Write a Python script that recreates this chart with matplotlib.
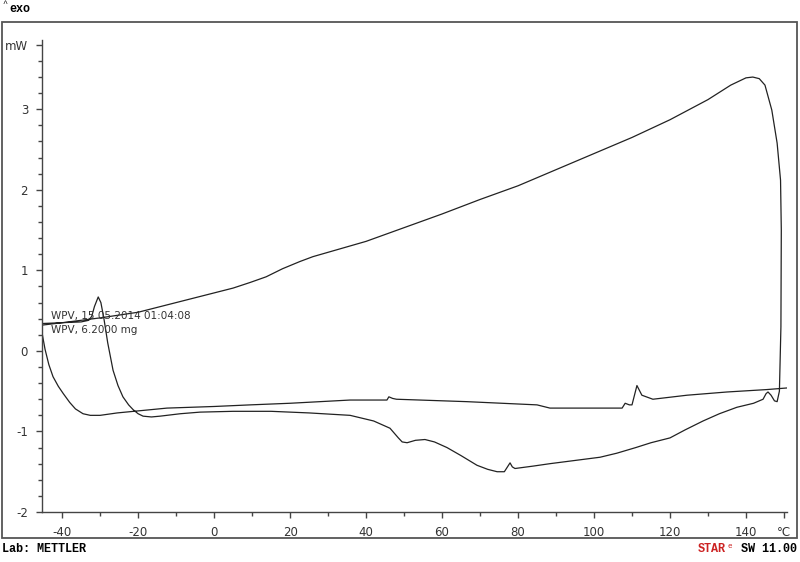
import numpy as np
import matplotlib
matplotlib.use("Agg")
import matplotlib.pyplot as plt
from matplotlib.patches import Rectangle
from matplotlib.ticker import MultipleLocator, FixedLocator, FixedFormatter

# first heating run (deg C, mW)
heat1_T = [-45.3, -40, -35, -33, -32.2, -31.5, -30.5, -29.8, -29, -28, -26.6, -25.3, -24,
           -22.5, -21.3, -20, -18.7, -16.5, -14.2, -8.9, -3.7, 5, 15, 25, 35.8, 42, 46.3,
           48.5, 49.5, 50.8, 53, 55.5, 58, 61.3, 65, 69.2, 72, 74.5, 76.4, 77.2, 77.9,
           78.5, 79.2, 84, 88.4, 95, 101.6, 106, 111, 115, 120, 124, 128.7, 133, 137.6,
           142, 144.5, 145.3, 145.8, 146.6, 147.5, 148.2, 148.8, 149.2, 149.3]
heat1_mW = [0.34, 0.35, 0.36, 0.38, 0.43, 0.55, 0.67, 0.60, 0.40, 0.10, -0.24, -0.43,
            -0.57, -0.67, -0.73, -0.78, -0.81, -0.82, -0.81, -0.78, -0.76, -0.75, -0.75,
            -0.77, -0.80, -0.87, -0.96, -1.08, -1.13, -1.14, -1.11, -1.10, -1.13, -1.20,
            -1.30, -1.42, -1.47, -1.50, -1.50, -1.44, -1.39, -1.44, -1.46, -1.43, -1.40,
            -1.36, -1.32, -1.27, -1.20, -1.14, -1.08, -0.98, -0.87, -0.78, -0.70, -0.65,
            -0.60, -0.53, -0.51, -0.55, -0.62, -0.63, -0.50, 0.30, 1.50]

# cooling run (right to left)
cool_T = [149.1, 148.2, 146.8, 145, 143.5, 141.8, 140, 136, 130, 120, 110, 100, 90, 80,
          70, 60, 50, 47, 40, 29.7, 26, 22.6, 18, 13.7, 9.5, 5, 0, -10, -20, -30, -40,
          -45.3]
cool_mW = [2.12, 2.58, 2.99, 3.30, 3.38, 3.40, 3.39, 3.30, 3.12, 2.87, 2.65, 2.45, 2.25,
           2.05, 1.88, 1.70, 1.53, 1.48, 1.36, 1.22, 1.17, 1.11, 1.02, 0.92, 0.85, 0.78,
           0.72, 0.60, 0.48, 0.41, 0.35, 0.32]

# second heating run
heat2_T = [-45.3, -45.2, -44.5, -43.5, -42.4, -41, -39.7, -38, -36.5, -34.5, -32.6, -30,
           -25.5, -12.4, 0, 9.5, 20, 35.8, 45.5, 46, 47, 48, 66.5, 85, 88.4, 101.6, 107.4,
           108.2, 109.3, 110, 111.3, 112.6, 115.5, 124.5, 135, 145.5, 150.8]
heat2_mW = [0.32, 0.20, 0.02, -0.17, -0.32, -0.44, -0.53, -0.64, -0.72, -0.78, -0.80,
            -0.80, -0.77, -0.71, -0.69, -0.67, -0.65, -0.61, -0.61, -0.57, -0.59, -0.60,
            -0.63, -0.67, -0.71, -0.71, -0.71, -0.65, -0.67, -0.67, -0.43, -0.55, -0.60,
            -0.55, -0.51, -0.48, -0.46]

x_major = [-40, -20, 0, 20, 40, 60, 80, 100, 120, 140, 150]
x_labels = ['-40', '-20', '0', '20', '40', '60', '80', '100', '120', '140', '°C']
y_major = [-2, -1, 0, 1, 2, 3, 3.8]
y_labels = ['-2', '-1', '0', '1', '2', '3', 'mW']

W, H = 800, 562
fig = plt.figure(figsize=(8, 5.62), dpi=100)
fig.patch.set_facecolor('white')

# axes placed in pixel terms
ax = fig.add_axes([42 / W, 1 - 512 / H, (787 - 42) / W, (512 - 40) / H])
ax.set_xlim(-45.3, 150.8)
ax.set_ylim(-2, 3.86)

T_all = heat1_T + cool_T + heat2_T
mW_all = heat1_mW + cool_mW + heat2_mW
ax.plot(T_all, mW_all, color='#222222', lw=0.9)

for s in ['top', 'right']:
    ax.spines[s].set_visible(False)
for s in ['left', 'bottom']:
    ax.spines[s].set_color('#444444')
    ax.spines[s].set_linewidth(1.0)

ax.xaxis.set_major_locator(FixedLocator(x_major))
ax.xaxis.set_major_formatter(FixedFormatter(x_labels))
ax.xaxis.set_minor_locator(FixedLocator([-30, -10, 10, 30, 50, 70, 90, 110, 130]))
ax.yaxis.set_major_locator(FixedLocator(y_major))
ax.yaxis.set_major_formatter(FixedFormatter(y_labels))
ax.yaxis.set_minor_locator(MultipleLocator(0.2))
ax.tick_params(which='both', direction='out', color='#444444', width=1.0)
ax.tick_params(which='major', length=4, labelsize=8.5, labelcolor='#333333', pad=6)
ax.tick_params(which='minor', length=3)

ax.text(-42.9, 0.43, 'WPV, 15.05.2014 01:04:08', fontsize=7.5, color='#333333', va='center')
ax.text(-42.9, 0.26, 'WPV, 6.2000 mg', fontsize=7.5, color='#333333', va='center')

# outer frame
fig.patches.append(Rectangle((2 / W, 1 - 538 / H), 795 / W, (538 - 22) / H,
                             transform=fig.transFigure, fill=False,
                             edgecolor='#555555', lw=1.3))

fig.text(2 / W, 1 - 4 / H, '^', fontsize=6, family='Liberation Mono', va='center')
fig.text(9 / W, 1 - 9 / H, 'exo', fontsize=8.5, family='Liberation Mono',
         weight='bold', va='center')
fig.text(2 / W, 1 - 549 / H, 'Lab: METTLER', fontsize=8.5, family='Liberation Mono',
         weight='bold', va='center')
fig.text(741 / W, 1 - 549 / H, 'SW 11.00', fontsize=8.5, family='Liberation Mono',
         weight='bold', va='center', ha='left')
fig.text(726 / W, 1 - 549 / H, 'STAR', fontsize=8.5, family='Liberation Mono',
         weight='bold', va='center', ha='right', color='#cc2222')
fig.text(727 / W, 1 - 546 / H, 'e', fontsize=5.5, family='Liberation Mono',
         va='center', ha='left', color='#cc2222')

fig.savefig('out.png', dpi=100, facecolor='white')
